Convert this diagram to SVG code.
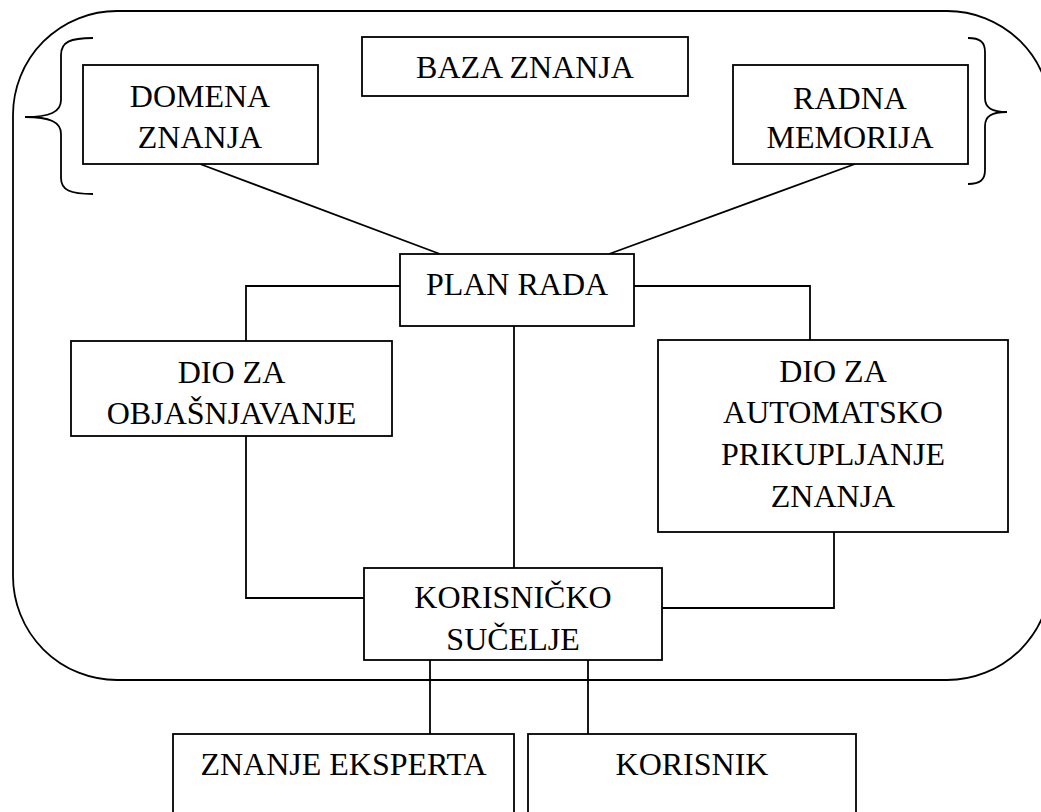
<svg xmlns="http://www.w3.org/2000/svg" width="1041" height="812" viewBox="0 0 1041 812">
<style>
.box{fill:#fff;stroke:#000;stroke-width:1.8}
.ln{fill:none;stroke:#000;stroke-width:1.8}
text{font-family:"Liberation Serif","Times New Roman",serif;font-size:32px;fill:#000;text-anchor:middle}
</style>
<rect width="1041" height="812" fill="#fff"/>
<g id="outer">
<rect x="13" y="11" width="1038" height="669" rx="104" ry="104" class="ln"/>
<path class="ln" d="M93,38 C70,38 61,42 61,55 L61,100 C61,112 50,117 25,117 C50,117 61,122 61,134 L61,178 C61,190 70,194 93,194"/>
<path class="ln" d="M968,38 C980,38 985,42 985,52 L985,98 C985,108 992,112 1007,112 C992,112 985,116 985,126 L985,170 C985,180 980,184 968,184"/>
</g>
<g id="connectors">
<line class="ln" x1="200" y1="164" x2="440" y2="254"/>
<line class="ln" x1="855" y1="164" x2="609" y2="254"/>
<polyline class="ln" points="400,286 246,286 246,341"/>
<polyline class="ln" points="634,286 810,286 810,340"/>
<line class="ln" x1="514" y1="326" x2="514" y2="568"/>
<polyline class="ln" points="246,436 246,598 364,598"/>
<polyline class="ln" points="834,532 834,608 662,608"/>
<line class="ln" x1="430" y1="660" x2="430" y2="734"/>
<line class="ln" x1="588" y1="660" x2="588" y2="734"/>
</g>
<g id="baza"><rect class="box" x="362" y="37" width="326" height="59"/><text x="525" y="78">BAZA ZNANJA</text></g>
<g id="domena"><rect class="box" x="83" y="65" width="235" height="99"/><text x="200" y="107">DOMENA</text><text x="200" y="148">ZNANJA</text></g>
<g id="radna"><rect class="box" x="733" y="65" width="235" height="99"/><text x="850" y="109">RADNA</text><text x="850" y="148">MEMORIJA</text></g>
<g id="plan"><rect class="box" x="400" y="254" width="234" height="72"/><text x="517" y="295">PLAN RADA</text></g>
<g id="objasnjavanje"><rect class="box" x="71" y="341" width="321" height="95"/><text x="231.5" y="383">DIO ZA</text><text x="231.5" y="424">OBJAŠNJAVANJE</text></g>
<g id="automatsko"><rect class="box" x="658" y="340" width="350" height="192"/><text x="833" y="382">DIO ZA</text><text x="833" y="423">AUTOMATSKO</text><text x="833" y="465">PRIKUPLJANJE</text><text x="833" y="507">ZNANJA</text></g>
<g id="korisnicko"><rect class="box" x="364" y="568" width="298" height="92"/><text x="513" y="608">KORISNIČKO</text><text x="513" y="650">SUČELJE</text></g>
<g id="ekspert"><rect class="box" x="173" y="734" width="341" height="100"/><text x="343.5" y="775">ZNANJE EKSPERTA</text></g>
<g id="korisnik"><rect class="box" x="528" y="734" width="328" height="100"/><text x="692" y="775">KORISNIK</text></g>
</svg>
